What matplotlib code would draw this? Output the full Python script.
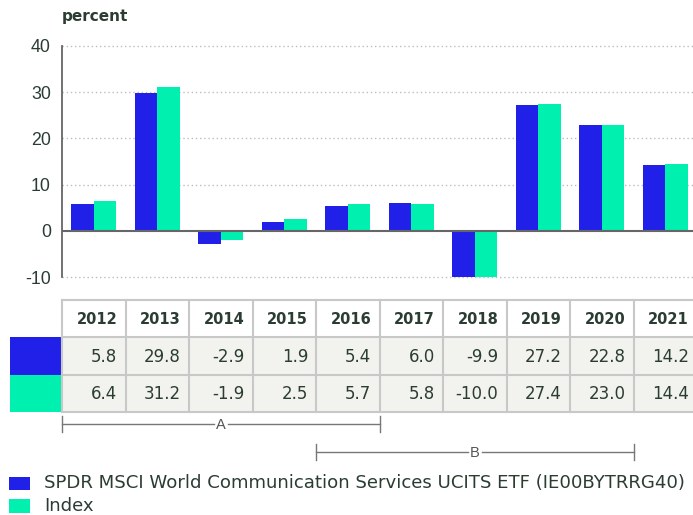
import matplotlib
matplotlib.use("Agg")
import matplotlib.pyplot as plt
from matplotlib.patches import Rectangle
import numpy as np

years = ["2012", "2013", "2014", "2015", "2016", "2017", "2018", "2019", "2020", "2021"]
fund = [5.8, 29.8, -2.9, 1.9, 5.4, 6.0, -9.9, 27.2, 22.8, 14.2]
index = [6.4, 31.2, -1.9, 2.5, 5.7, 5.8, -10.0, 27.4, 23.0, 14.4]
series_names = ["SPDR MSCI World Communication Services UCITS ETF (IE00BYTRRG40)", "Index"]
y_ticks = [-10, 0, 10, 20, 30, 40]
periods = [("A", 0, 5), ("B", 4, 9)]  # label, first col, end col (exclusive)

BLUE = "#2020e8"
GREEN = "#00f0b0"
TXT = "#2b3d33"
GRID = "#c8c8c8"
WIDE = ['DejaVu Sans']
ARIAL = ['Liberation Sans', 'DejaVu Sans']

plt.rcParams['font.family'] = ARIAL

W, H = 693, 515
fig = plt.figure(figsize=(W / 100, H / 100), dpi=100)

def fx(px):
    return px / W

def fy(py):
    return 1 - py / H

# main bar axes (extends slightly past the right edge, like the reference)
left, right, top, bottom = 62, 697, 46, 277
ax = fig.add_axes([fx(left), fy(bottom), fx(right - left), (bottom - top) / H])
x = np.arange(len(years))
bw = 0.355
ax.bar(x - bw / 2, fund, bw, color=BLUE, zorder=3)
ax.bar(x + bw / 2, index, bw, color=GREEN, zorder=3)
ax.set_xlim(-0.5, len(years) - 0.5)
ax.set_ylim(-10, 40)
ax.set_yticks(y_ticks)
ax.set_yticklabels([str(t) for t in y_ticks], fontsize=12.8, color=TXT)
ax.tick_params(axis='y', length=0, pad=8)
ax.set_xticks([])
for t in y_ticks:
    if t != 0:
        ax.axhline(t, color="#bdbdbd", lw=1, ls=(0, (1, 2)), zorder=1, clip_on=False)
ax.axhline(0, color="#666666", lw=1.5, zorder=4)
for s in ["top", "right", "bottom"]:
    ax.spines[s].set_visible(False)
ax.spines["left"].set_color("#666666")
ax.spines["left"].set_linewidth(1.3)

fig.text(fx(62), fy(17), "percent", fontsize=11, fontweight="bold", color=TXT,
         ha="left", va="center", family=WIDE)

# overlay axes in pixel coordinates for table, brackets and legend
ov = fig.add_axes([0, 0, 1, 1])
ov.set_xlim(0, W)
ov.set_ylim(H, 0)
ov.axis("off")

colw = (right - left) / len(years)
row_edges = [300, 337, 374.5, 412]
ov.add_patch(Rectangle((left, row_edges[1]), right - left, row_edges[3] - row_edges[1],
                       facecolor="#f2f2ee", edgecolor="none", zorder=1))
ov.add_patch(Rectangle((10, row_edges[1]), left - 10, row_edges[2] - row_edges[1],
                       facecolor=BLUE, edgecolor="none", zorder=2))
ov.add_patch(Rectangle((10, row_edges[2]), left - 10, row_edges[3] - row_edges[2],
                       facecolor=GREEN, edgecolor="none", zorder=2))
for yy in row_edges:
    ov.plot([left, right], [yy, yy], color=GRID, lw=1.5, zorder=3)
for i in range(len(years) + 1):
    xx = left + i * colw
    ov.plot([xx, xx], [row_edges[0], row_edges[3]], color=GRID, lw=1.5, zorder=3)

for i, yr in enumerate(years):
    xr = left + (i + 1) * colw - 8
    ov.text(xr, (row_edges[0] + row_edges[1]) / 2 + 1, yr, ha="right", va="center",
            fontsize=10.5, fontweight="bold", color=TXT, zorder=4, family=WIDE)
    ov.text(xr, (row_edges[1] + row_edges[2]) / 2 + 1, f"{fund[i]:.1f}", ha="right",
            va="center", fontsize=12, color=TXT, zorder=4, family=WIDE)
    ov.text(xr, (row_edges[2] + row_edges[3]) / 2 + 1, f"{index[i]:.1f}", ha="right",
            va="center", fontsize=12, color=TXT, zorder=4, family=WIDE)

# period brackets
br_y = [424, 452]
for (lab, c0, c1), yy in zip(periods, br_y):
    x0 = left + c0 * colw
    x1 = left + c1 * colw
    xm = (x0 + x1) / 2
    ov.plot([x0, xm - 7], [yy, yy], color="#777777", lw=1)
    ov.plot([xm + 7, x1], [yy, yy], color="#777777", lw=1)
    ov.plot([x0, x0], [yy - 8, yy + 8], color="#777777", lw=1)
    ov.plot([x1, x1], [yy - 8, yy + 8], color="#777777", lw=1)
    ov.text(xm, yy + 1, lab, ha="center", va="center", fontsize=10.5, color="#555555")

# legend
for k, (name, col) in enumerate(zip(series_names, [BLUE, GREEN])):
    yc = 483.5 + k * 22.5
    ov.add_patch(Rectangle((9, yc - 6.7), 21, 13.4, facecolor=col, edgecolor="none"))
    ov.text(44, yc, name, ha="left", va="center", fontsize=13.1, color=TXT, family=WIDE)

fig.savefig("out.png", dpi=100)
